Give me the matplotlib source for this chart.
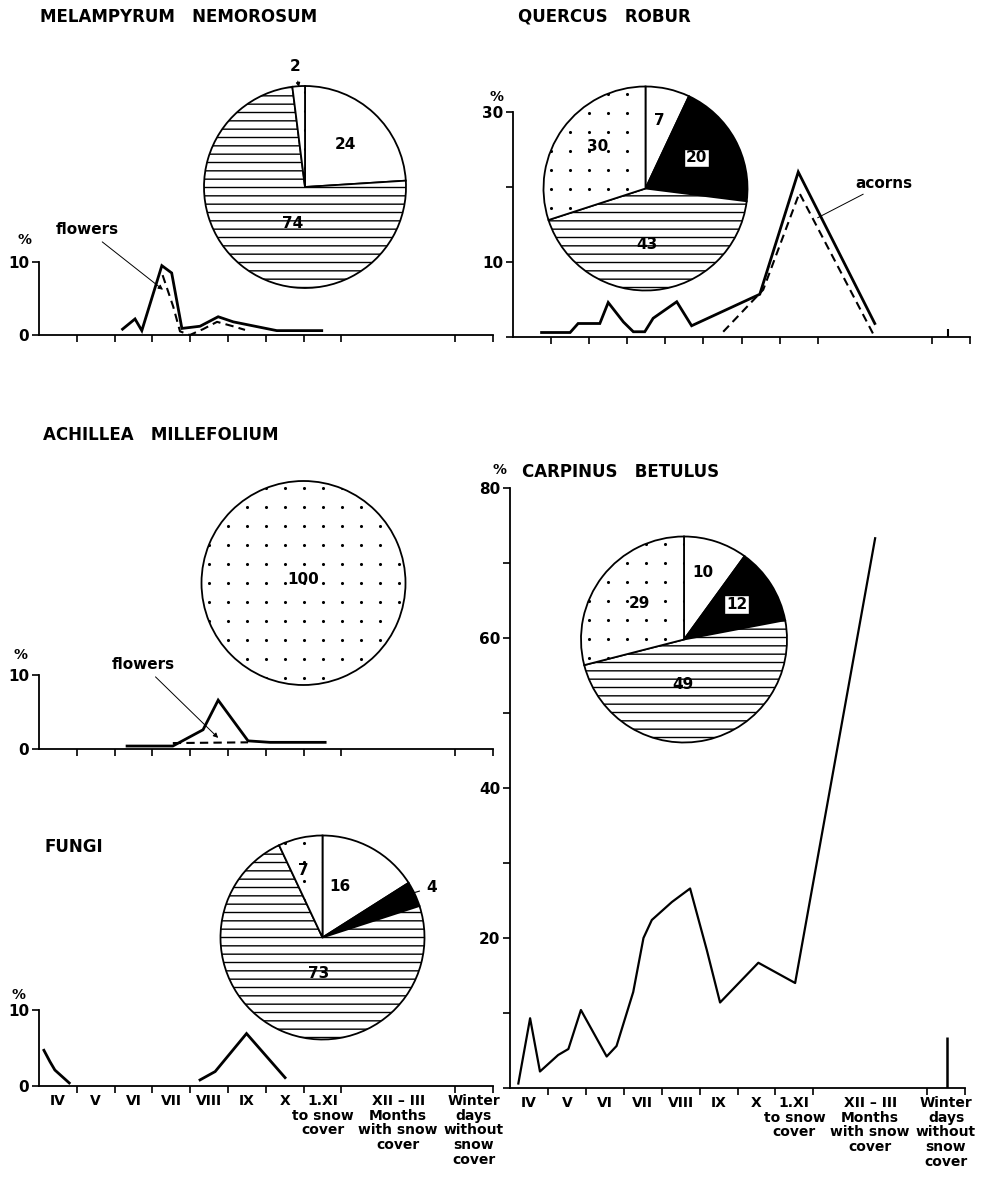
import numpy as np
import matplotlib.pyplot as plt

plt.rcParams['font.family'] = 'DejaVu Sans'
plt.rcParams['font.weight'] = 'bold'
plt.rcParams['hatch.linewidth'] = 1.0

W, H = 985, 1192

# month bins on the x axis (XII-III is three months wide)
bin_edges = [0, 1, 2, 3, 4, 5, 6, 7, 8, 11, 12]
month_labels = ['IV', 'V', 'VI', 'VII', 'VIII', 'IX', 'X',
                '1.XI\nto snow\ncover',
                'XII – III\nMonths\nwith snow\ncover',
                'Winter\ndays\nwithout\nsnow\ncover']

# Melampyrum nemorosum
mel_x = [2.21, 2.54, 2.72, 3.25, 3.51, 3.78, 4.26, 4.74, 5.14, 6.29, 7.48]
mel_y = [0.8, 2.2, 0.6, 9.5, 8.5, 0.9, 1.2, 2.5, 1.8, 0.6, 0.6]
mel_fl_x = [3.27, 3.40, 3.55, 3.73, 3.99, 4.34, 4.71, 5.13, 5.45]
mel_fl_y = [8.2, 6.2, 3.9, 0.5, 0.0, 0.8, 1.8, 1.2, 0.7]
mel_pie = [24, 74, 2]
mel_kinds = ['white', 'lines', 'dots']

# Quercus robur
que_x = [0.75, 1.50, 1.71, 2.28, 2.50, 2.90, 3.16, 3.46, 3.68, 4.30, 4.69, 6.48, 7.49, 9.50]
que_y = [0.6, 0.6, 1.8, 1.8, 4.6, 2.0, 0.7, 0.7, 2.5, 4.7, 1.5, 5.7, 22.0, 1.8]
que_ac_x = [5.52, 6.57, 7.52, 9.50]
que_ac_y = [0.7, 6.3, 19.2, 0.0]
que_winter = 1.0
que_pie = [7, 20, 43, 30]
que_kinds = ['white', 'black', 'lines', 'dots']

# Achillea millefolium
ach_x = [2.33, 3.54, 4.34, 4.74, 5.53, 6.11, 7.57]
ach_y = [0.4, 0.4, 2.6, 6.6, 1.1, 0.9, 0.9]
ach_fl_x = [3.54, 5.53]
ach_fl_y = [0.8, 0.9]
ach_pie = [100]
ach_kinds = ['dots']

# Fungi
fun_x1 = [0.13, 0.29, 0.42, 0.80]
fun_y1 = [4.7, 3.2, 2.1, 0.4]
fun_x2 = [4.26, 4.66, 5.49, 6.51]
fun_y2 = [0.8, 1.9, 6.9, 1.1]
fun_pie = [16, 4, 73, 7]
fun_kinds = ['white', 'black', 'lines', 'dots']

# Carpinus betulus
car_x = [0.22, 0.53, 0.79, 1.27, 1.54, 1.87, 2.55, 2.81, 3.25, 3.52, 3.74,
         4.27, 4.75, 5.19, 5.54, 6.55, 7.52, 9.63]
car_y = [0.6, 9.3, 2.2, 4.4, 5.2, 10.4, 4.2, 5.6, 12.8, 20.0, 22.4,
         24.8, 26.6, 18.4, 11.4, 16.7, 14.0, 73.3]
car_winter = 6.8
car_pie = [10, 12, 49, 29]
car_kinds = ['white', 'black', 'lines', 'dots']

fill = {'white': 'white', 'black': 'black', 'lines': 'white', 'dots': 'white'}

fig = plt.figure(figsize=(W / 100, H / 100), dpi=100)


def px_axes(left, top, right, bottom):
    return fig.add_axes([left / W, 1 - bottom / H, (right - left) / W, (bottom - top) / H])


def panel(left, right, top, bottom, ymax, yticks, ylabels, bottom_labels=False):
    ax = px_axes(left, top, right, bottom)
    ax.set_xlim(0, 12)
    ax.set_ylim(0, ymax)
    ax.patch.set_alpha(0)
    for s in ['top', 'right']:
        ax.spines[s].set_visible(False)
    for s in ['left', 'bottom']:
        ax.spines[s].set_linewidth(1.3)
    ax.set_xticks(bin_edges[1:])
    ax.set_xticklabels([])
    ax.tick_params(axis='x', length=5, width=1.2)
    ax.set_yticks(yticks)
    ax.set_yticklabels(ylabels, fontsize=11)
    ax.tick_params(axis='y', length=5, width=1.2, pad=2)
    if bottom_labels:
        centers = [(a + b) / 2 for a, b in zip(bin_edges[:-1], bin_edges[1:])]
        ax.set_xticks(centers, minor=True)
        ax.set_xticklabels(month_labels, minor=True, fontsize=10, linespacing=1.05)
        ax.tick_params(axis='x', which='minor', length=0, pad=6)
    return ax


def pie(cx, cy, r, values, kinds):
    k = 1.03
    ax = px_axes(cx - r * k, cy - r * k, cx + r * k, cy + r * k)
    wedges, _ = ax.pie(values, startangle=90, counterclock=False, radius=1,
                       wedgeprops=dict(edgecolor='black', linewidth=1.3))
    # square dot raster (about 19 px apart) for the stippled sectors
    step = 19.0 / r
    g = np.arange(-6, 7) * step
    gx, gy = np.meshgrid(g, g)
    for w, kind in zip(wedges, kinds):
        w.set_facecolor(fill[kind])
        if kind == 'lines':
            w.set_hatch('--')
        if kind == 'dots':
            dots = ax.scatter(gx.ravel(), gy.ravel(), s=5, color='black', lw=0, zorder=3)
            dots.set_clip_path(w)
    ax.set_xlim(-k, k)
    ax.set_ylim(-k, k)
    ax.set_aspect('equal')
    return ax


def pie_labels(ax, values, positions, boxed=()):
    for v, (x, y) in zip(values, positions):
        kw = {}
        if v in boxed:
            kw['bbox'] = dict(boxstyle='square,pad=0.12', fc='white', ec='black', lw=1)
        ax.text(x, y, str(v), ha='center', va='center', fontsize=11, zorder=5, **kw)


solid = dict(color='black', lw=2.0, clip_on=False, solid_joinstyle='miter')
dashed = dict(color='black', lw=1.5, ls=(0, (4, 2.5)), clip_on=False)

# ---- Melampyrum
ax = panel(39, 492.6, 262, 335, 10, [0, 10], ['0', '10'])
ax.plot(mel_x, mel_y, **solid)
ax.plot(mel_fl_x, mel_fl_y, **dashed)
ax.annotate('flowers', xy=(3.28, 6.2), xytext=(1.27, 14.4), ha='center', va='center',
            fontsize=11, annotation_clip=False,
            arrowprops=dict(arrowstyle='-|>', lw=0.7, color='black', mutation_scale=7,
                            shrinkA=2, shrinkB=0))
pa = pie(305, 187, 101, mel_pie, mel_kinds)
pie_labels(pa, mel_pie[:2], [(0.40, 0.42), (-0.12, -0.36)])
pa.annotate('2', xy=(-0.06, 0.99), xytext=(-0.10, 1.19), ha='center', va='center',
            fontsize=11, annotation_clip=False,
            arrowprops=dict(arrowstyle='-|>', lw=0.8, color='black', mutation_scale=6,
                            shrinkA=3, shrinkB=0))

# ---- Quercus
ax = panel(513, 970, 112, 337, 30, [0, 10, 20, 30], ['', '10', '', '30'])
ax.plot(que_x, que_y, **solid)
ax.plot(que_ac_x, que_ac_y, **dashed)
ax.vlines(11.42, 0, que_winter, color='black', lw=1.5)
ax.annotate('acorns', xy=(8.0, 15.9), xytext=(9.75, 20.5), ha='center', va='center',
            fontsize=11, annotation_clip=False,
            arrowprops=dict(arrowstyle='-', lw=0.7, color='black', shrinkA=1, shrinkB=0))
pa = pie(645.5, 188.5, 102, que_pie, que_kinds)
pie_labels(pa, que_pie, [(0.14, 0.67), (0.50, 0.30), (0.01, -0.55), (-0.47, 0.41)],
           boxed=(20,))

# ---- Achillea
ax = panel(39, 492.6, 675, 749, 10, [0, 10], ['0', '10'])
ax.plot(ach_x, ach_y, **solid)
ax.plot(ach_fl_x, ach_fl_y, **dashed)
ax.annotate('flowers', xy=(4.74, 1.5), xytext=(2.75, 11.4), ha='center', va='center',
            fontsize=11, annotation_clip=False,
            arrowprops=dict(arrowstyle='-|>', lw=0.7, color='black', mutation_scale=7,
                            shrinkA=2, shrinkB=0))
pa = pie(303.5, 583, 102, ach_pie, ach_kinds)
pie_labels(pa, ach_pie, [(0.0, 0.03)])

# ---- Fungi
ax = panel(39, 492.6, 1010, 1086, 10, [0, 10], ['0', '10'], bottom_labels=True)
ax.plot(fun_x1, fun_y1, **solid)
ax.plot(fun_x2, fun_y2, **solid)
pa = pie(322.5, 937.5, 102, fun_pie, fun_kinds)
pie_labels(pa, [16, 73, 7], [(0.17, 0.50), (-0.04, -0.35), (-0.19, 0.66)])
pa.annotate('4', xy=(0.90, 0.44), xytext=(1.07, 0.49), ha='center', va='center',
            fontsize=11, annotation_clip=False,
            arrowprops=dict(arrowstyle='-', lw=0.8, color='black', shrinkA=3, shrinkB=0))

# ---- Carpinus
ax = panel(510, 965, 488, 1088, 80, list(range(0, 90, 10)),
           ['', '', '20', '', '40', '', '60', '', '80'], bottom_labels=True)
ax.plot(car_x, car_y, color='black', lw=1.6, clip_on=False)
ax.vlines(11.52, 0, car_winter, color='black', lw=1.8)
pa = pie(684, 639.5, 103, car_pie, car_kinds)
pie_labels(pa, car_pie, [(0.18, 0.65), (0.51, 0.34), (-0.01, -0.44), (-0.43, 0.35)],
           boxed=(12,))

# ---- titles and % marks
tkw = dict(fontsize=12, va='center', ha='left')
fig.text(40 / W, 1 - 17 / H, 'MELAMPYRUM   NEMOROSUM', **tkw)
fig.text(518 / W, 1 - 17 / H, 'QUERCUS   ROBUR', **tkw)
fig.text(43 / W, 1 - 435 / H, 'ACHILLEA   MILLEFOLIUM', **tkw)
fig.text(45 / W, 1 - 847 / H, 'FUNGI', **tkw)
fig.text(522 / W, 1 - 472 / H, 'CARPINUS   BETULUS', **tkw)
for x, y in [(25, 240), (497, 97), (20, 655), (18, 995), (500, 470)]:
    fig.text(x / W, 1 - y / H, '%', fontsize=10, ha='center', va='center')

fig.savefig('out.png', dpi=100, facecolor='white')
